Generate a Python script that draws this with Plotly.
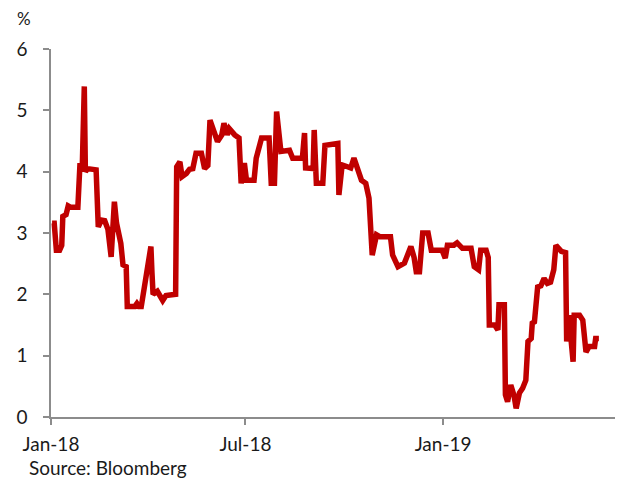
import plotly.graph_objects as go

# Daily yield series, %
dates = [
    "2018-01-02", "2018-01-04", "2018-01-06", "2018-01-09", "2018-01-11", "2018-01-12",
    "2018-01-15", "2018-01-17", "2018-01-19", "2018-01-26", "2018-01-28", "2018-01-30",
    "2018-02-01", "2018-02-02", "2018-02-04", "2018-02-12", "2018-02-14", "2018-02-17",
    "2018-02-20", "2018-02-23", "2018-02-26", "2018-03-01", "2018-03-03", "2018-03-05",
    "2018-03-07", "2018-03-09", "2018-03-12", "2018-03-13", "2018-03-20", "2018-03-22",
    "2018-03-24", "2018-03-26", "2018-04-03", "2018-04-04", "2018-04-05", "2018-04-06",
    "2018-04-10", "2018-04-15", "2018-04-18", "2018-04-27", "2018-04-28", "2018-05-01",
    "2018-05-03", "2018-05-07", "2018-05-10", "2018-05-13", "2018-05-16", "2018-05-21",
    "2018-05-24", "2018-05-27", "2018-05-29", "2018-06-02", "2018-06-05", "2018-06-09",
    "2018-06-11", "2018-06-14", "2018-06-16", "2018-06-21", "2018-06-25", "2018-06-27",
    "2018-06-30", "2018-07-02", "2018-07-09", "2018-07-11", "2018-07-16", "2018-07-23",
    "2018-07-25", "2018-07-28", "2018-07-30", "2018-08-03", "2018-08-11", "2018-08-14",
    "2018-08-23", "2018-08-25", "2018-08-26", "2018-09-02", "2018-09-03", "2018-09-05",
    "2018-09-11", "2018-09-13", "2018-09-25", "2018-09-26", "2018-09-29", "2018-10-04",
    "2018-10-07", "2018-10-10", "2018-10-13", "2018-10-17", "2018-10-21", "2018-10-24",
    "2018-10-27", "2018-10-31", "2018-11-03", "2018-11-13", "2018-11-15", "2018-11-20",
    "2018-11-26", "2018-12-02", "2018-12-05", "2018-12-07", "2018-12-10", "2018-12-13",
    "2018-12-18", "2018-12-21", "2018-12-31", "2019-01-03", "2019-01-05", "2019-01-11",
    "2019-01-14", "2019-01-19", "2019-01-27", "2019-01-30", "2019-02-03", "2019-02-05",
    "2019-02-10", "2019-02-12", "2019-02-13", "2019-02-18", "2019-02-21", "2019-02-22",
    "2019-02-27", "2019-02-28", "2019-03-02", "2019-03-05", "2019-03-08", "2019-03-10",
    "2019-03-13", "2019-03-16", "2019-03-19", "2019-03-21", "2019-03-24", "2019-03-25",
    "2019-03-27", "2019-03-30", "2019-04-02", "2019-04-05", "2019-04-08", "2019-04-11",
    "2019-04-14", "2019-04-16", "2019-04-21", "2019-04-25", "2019-04-26", "2019-04-28",
    "2019-05-02", "2019-05-03", "2019-05-08", "2019-05-11", "2019-05-14", "2019-05-17",
    "2019-05-22", "2019-05-23", "2019-05-26",
]
values = [
    3.16, 3.16, 2.72, 2.72, 2.80, 3.27,
    3.30, 3.44, 3.42, 3.42, 4.14, 4.00,
    5.39, 4.00, 4.05, 4.03, 3.10, 3.21,
    3.20, 3.06, 2.61, 3.51, 3.16, 3.00,
    2.83, 2.48, 2.45, 1.80, 1.80, 1.85,
    1.80, 1.80, 2.78, 2.78, 2.35, 2.00,
    2.05, 1.90, 1.98, 2.00, 4.08, 4.16,
    3.92, 3.97, 4.04, 4.05, 4.30, 4.30,
    4.05, 4.10, 4.84, 4.60, 4.49, 4.60,
    4.79, 4.60, 4.70, 4.60, 4.55, 3.81,
    4.14, 3.86, 3.86, 4.22, 4.55, 4.55,
    3.81, 3.81, 4.98, 4.33, 4.35, 4.22,
    4.22, 4.63, 4.06, 4.05, 4.68, 3.81,
    3.81, 4.43, 4.46, 3.62, 4.11, 4.08,
    4.06, 4.22, 4.05, 3.86, 3.81, 3.57,
    2.64, 2.97, 2.94, 2.94, 2.64, 2.45,
    2.51, 2.78, 2.60, 2.37, 2.37, 3.00,
    3.00, 2.72, 2.72, 2.59, 2.80, 2.80,
    2.84, 2.75, 2.75, 2.45, 2.40, 2.72,
    2.72, 2.60, 1.50, 1.50, 1.42, 1.83,
    1.83, 0.36, 0.25, 0.52, 0.35, 0.14,
    0.39, 0.47, 0.60, 1.23, 1.28, 1.53,
    1.55, 2.12, 2.14, 2.26, 2.18, 2.20,
    2.40, 2.80, 2.70, 2.68, 1.23, 1.66,
    0.90, 1.66, 1.66, 1.58, 1.06, 1.15,
    1.15, 1.28, 1.28,
]

x_tick_vals = ["2018-01-01", "2018-07-01", "2019-01-01"]
x_tick_text = ["Jan-18", "Jul-18", "Jan-19"]
y_tick_vals = [0, 1, 2, 3, 4, 5, 6]

font_family = "Lato, 'Open Sans', sans-serif"
axis_grey = "#8c8c8c"
text_color = "#1a1a1a"

fig = go.Figure()
fig.add_trace(go.Scatter(
    x=dates, y=values, mode="lines",
    line=dict(color="#C00000", width=5.5),
    hoverinfo="x+y", showlegend=False,
))

fig.update_layout(
    width=619, height=481,
    margin=dict(l=51, r=4, t=49, b=64),
    paper_bgcolor="white", plot_bgcolor="white",
    font=dict(family=font_family, size=19, color=text_color),
    xaxis=dict(
        type="date",
        range=["2018-01-01", "2019-06-10"],
        tickmode="array", tickvals=x_tick_vals, ticktext=x_tick_text,
        showgrid=False, zeroline=False,
        showline=True, linecolor=axis_grey, linewidth=1.5,
        ticks="outside", ticklen=6, tickwidth=1.5, tickcolor=axis_grey,
        ticklabelstandoff=3,
        tickfont=dict(size=19, color=text_color),
    ),
    yaxis=dict(
        range=[0, 6],
        tickmode="array", tickvals=y_tick_vals,
        showgrid=False, zeroline=False,
        showline=True, linecolor=axis_grey, linewidth=1.5,
        ticks="outside", ticklen=6, tickwidth=1.5, tickcolor=axis_grey,
        ticklabelstandoff=12,
        tickfont=dict(size=19, color=text_color),
    ),
    annotations=[
        dict(text="%", xref="paper", yref="paper", x=-0.048, y=1.084,
             xanchor="center", yanchor="middle", showarrow=False,
             font=dict(size=17, color=text_color)),
        dict(text="Source: Bloomberg", xref="paper", yref="paper", x=-0.043, y=-0.138,
             xanchor="left", yanchor="middle", showarrow=False,
             font=dict(size=19, color=text_color)),
    ],
)

fig.write_html("out.html")
